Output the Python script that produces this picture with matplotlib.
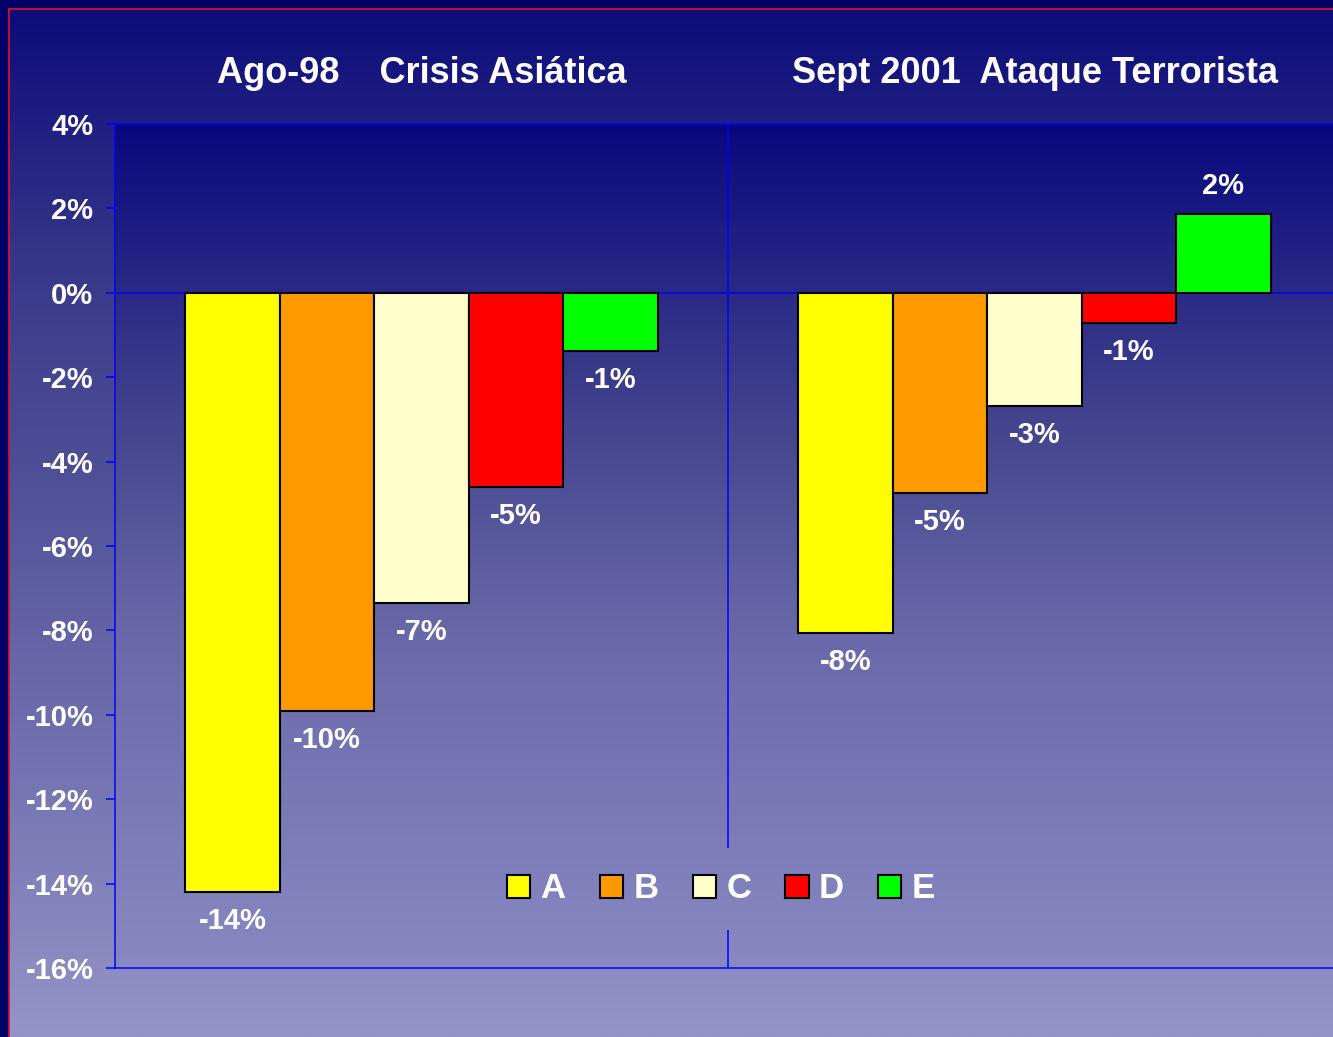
import numpy as np
import matplotlib
matplotlib.use("Agg")
import matplotlib.pyplot as plt
from matplotlib.patches import Rectangle
from matplotlib.lines import Line2D

# ---- data ----
groups = ["Ago-98    Crisis Asiática", "Sept 2001  Ataque Terrorista"]
series = ["A", "B", "C", "D", "E"]
vals_A = [-14.2, -8.05]
vals_B = [-9.9, -4.75]
vals_C = [-7.35, -2.68]
vals_D = [-4.6, -0.72]
vals_E = [-1.37, 1.86]
yticks = [-16, -14, -12, -10, -8, -6, -4, -2, 0, 2, 4]
ytick_labels = [f"{t}%" for t in yticks]

colors = ["#FFFF00", "#FF9900", "#FFFFCC", "#FF0000", "#00FF00"]
font = "Liberation Sans"
W, H, DPI = 1333, 1037, 100

fig = plt.figure(figsize=(W / DPI, H / DPI), dpi=DPI)


def grad_img(stops, n=512):
    t = np.linspace(0, 1, n)
    pos = [s[0] for s in stops]
    cols = np.array([s[1] for s in stops], dtype=float) / 255.0
    img = np.stack([np.interp(t, pos, cols[:, k]) for k in range(3)], axis=-1)
    return img[:, None, :]


# background
bg = fig.add_axes([0, 0, 1, 1], zorder=-10)
bg.axis("off")
bg.add_patch(Rectangle((0, 0), W, H, color="#000066", zorder=-5))
outer = grad_img([(0, (12, 12, 122)), (0.28, (60, 60, 140)), (0.41, (74, 74, 148)), (1.0, (148, 148, 200))])
bg.imshow(outer, extent=[9, W, H, 9], aspect="auto", interpolation="bilinear", zorder=0)
bg.add_line(Line2D([8.5, 8.5], [8.5, H], color="#E0102A", lw=1.2, zorder=3))
bg.add_line(Line2D([8.5, W], [8.5, 8.5], color="#E0102A", lw=1.2, zorder=3))
bg.set_xlim(0, W)
bg.set_ylim(H, 0)

# main axes
left = 115 / W
right = 1341 / W
bottom = 1 - 968 / H
top = 1 - 124 / H
ax = fig.add_axes([left, bottom, right - left, top - bottom])
ax.set_facecolor("none")
inner = grad_img([(0, (8, 8, 126)), (0.2, (42, 42, 134)), (0.37, (70, 70, 143)),
                  (0.613, (106, 106, 170)), (1.0, (136, 136, 194))])
ax.imshow(inner, extent=[0, 1, 0, 1], transform=ax.transAxes, aspect="auto",
          interpolation="bilinear", zorder=0)

x = np.arange(len(groups))
bw = 0.154
all_vals = [vals_A, vals_B, vals_C, vals_D, vals_E]
ax.axhline(0, color="#0000FF", lw=1.1, zorder=1)
ax.axvline(0.5, color="#0000FF", lw=1.1, zorder=1)
for i, (name, vals, c) in enumerate(zip(series, all_vals, colors)):
    pos = x + (i - 2) * bw
    ax.bar(pos, vals, width=bw, color=c, edgecolor="black", linewidth=1.5,
           label=name, zorder=2)
    for px, v in zip(pos, vals):
        off = 20.5 if v > 0 else -21
        ax.annotate(f"{round(v):.0f}%", (px, v), xytext=(0, off),
                    textcoords="offset points", ha="center", va="center",
                    color="white", fontsize=21, fontweight="bold", family=font)

ax.set_xlim(-0.5, 1.5)
ax.set_ylim(-16, 4)
ax.set_yticks(yticks)
ax.set_yticklabels(ytick_labels)
ax.set_xticks([])
ax.tick_params(axis="y", direction="out", length=6.5, width=1.1, color="#0000FF",
               pad=9, labelcolor="white", labelsize=21)
for lab in ax.get_yticklabels():
    lab.set_fontweight("bold")
    lab.set_family(font)
for s in ["left", "top", "bottom"]:
    ax.spines[s].set_color("#0000FF")
    ax.spines[s].set_linewidth(1.1)
ax.spines["right"].set_visible(False)

# group titles
trans = matplotlib.transforms.blended_transform_factory(ax.transData, fig.transFigure)
for xi, g in zip(x, groups):
    ax.text(xi, 1 - 83 / H, g, transform=trans, ha="center", va="baseline",
            color="white", fontsize=26, fontweight="bold", family=font, clip_on=False)

leg = ax.legend(loc="center", bbox_to_anchor=(721 / W, 1 - 889 / H),
                bbox_transform=fig.transFigure, ncol=5, frameon=True, fancybox=False,
                facecolor="none", edgecolor="none",
                handlelength=0.67, handleheight=0.67, handletextpad=0.3,
                columnspacing=0.98, borderpad=0.7,
                prop={"family": font, "weight": "bold", "size": 25})
for t in leg.get_texts():
    t.set_color("white")

# legend backdrop: same gradient as plot area, hiding the divider line behind it
fig.canvas.draw()
bb = leg.get_window_extent().transformed(ax.transAxes.inverted())
clip = Rectangle((bb.x0, bb.y0), bb.width, bb.height, transform=ax.transAxes,
                 facecolor="none", edgecolor="none")
ax.add_patch(clip)
im2 = ax.imshow(inner, extent=[0, 1, 0, 1], transform=ax.transAxes, aspect="auto",
                interpolation="bilinear", zorder=1.5)
im2.set_clip_path(clip)
ax.set_xlim(-0.5, 1.5)
ax.set_ylim(-16, 4)

fig.savefig("out.png", dpi=DPI)
